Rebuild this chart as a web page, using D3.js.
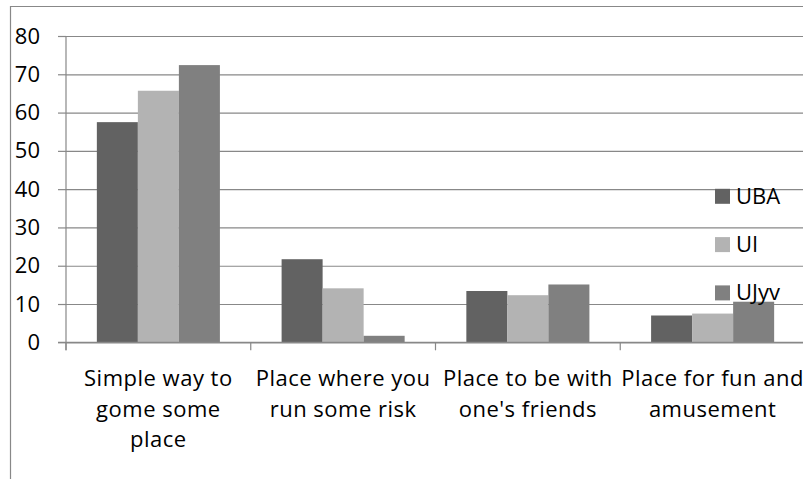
<!DOCTYPE html>
<html>
<head>
<meta charset="utf-8">
<script src="https://cdn.jsdelivr.net/npm/d3@7"></script>
<style>
  html, body { margin: 0; padding: 0; background: #fff; }
  svg { display: block; font-family: 'Open Sans', sans-serif; }
</style>
</head>
<body>
<div id="chart"></div>
<script>
// values
const categories = [
  ['Simple way to', 'gome some', 'place'],
  ['Place where you', 'run some risk'],
  ['Place to be with', "one's friends"],
  ['Place for fun and', 'amusement']
];
const seriesNames = ['UBA', 'UI', 'UJyv'];
const uba = [57.5, 21.7, 13.4, 7.0];
const ui = [65.7, 14.1, 12.3, 7.5];
const ujyv = [72.4, 1.7, 15.1, 10.6];
const yTicks = [0, 10, 20, 30, 40, 50, 60, 70, 80];

const seriesValues = [uba, ui, ujyv];
const colors = ['#626262', '#b3b3b3', '#808080'];
const gridColor = '#888888';

const width = 803;
const height = 479;

const svg = d3.select('#chart')
  .append('svg')
  .attr('width', width)
  .attr('height', height)
  .attr('viewBox', [0, 0, width, height]);

// outer chart frame (only left and top edges are visible)
svg.append('path')
  .attr('d', `M10.5,${height}V6.5H${width}`)
  .attr('fill', 'none')
  .attr('stroke', gridColor)
  .attr('stroke-width', 1.2);

const plotLeft = 66;
const plotRight = 805;
const keys = categories.map((c, i) => i);

const x0 = d3.scaleBand()
  .domain(keys)
  .range([plotLeft, plotRight])
  .paddingInner(0.334)
  .paddingOuter(0.167);

const x1 = d3.scaleBand()
  .domain(seriesNames)
  .range([0, x0.bandwidth()]);

const y = d3.scaleLinear()
  .domain([0, 80])
  .range([342.3, 36]);

// y axis with gridlines
svg.append('g')
  .attr('transform', `translate(${plotLeft},0)`)
  .call(d3.axisLeft(y).tickValues(yTicks).tickSize(8).tickPadding(18))
  .call((g) => g.select('.domain').remove())
  .call((g) => g.selectAll('.tick line')
    .attr('stroke', gridColor)
    .attr('stroke-width', 1.2))
  .call((g) => g.selectAll('.tick line').clone()
    .attr('x1', 0)
    .attr('x2', plotRight - plotLeft))
  .call((g) => g.selectAll('.tick text')
    .attr('fill', '#000')
    .attr('font-size', 22)
    .attr('font-family', "'Open Sans', sans-serif"));

// bars
const groups = svg.selectAll('.catgroup')
  .data(keys)
  .enter()
  .append('g')
  .attr('class', 'catgroup')
  .attr('transform', (d) => `translate(${x0(d)},0)`);

groups.selectAll('rect')
  .data((d) => seriesNames.map((s, si) => ({ s, si, v: seriesValues[si][d] })))
  .enter()
  .append('rect')
  .attr('x', (d) => x1(d.s))
  .attr('y', (d) => y(d.v))
  .attr('width', x1.bandwidth())
  .attr('height', (d) => y(0) - y(d.v))
  .attr('fill', (d) => colors[d.si]);

// x axis line and category ticks
const step = x0.step();
const bounds = keys.map((k) => x0(k) - step * 0.167).concat([plotRight]);

svg.append('line')
  .attr('x1', plotLeft - 8)
  .attr('x2', plotRight)
  .attr('y1', y(0))
  .attr('y2', y(0))
  .attr('stroke', gridColor)
  .attr('stroke-width', 1.2);

svg.append('line')
  .attr('x1', plotLeft)
  .attr('x2', plotLeft)
  .attr('y1', y(80))
  .attr('y2', y(0) + 8)
  .attr('stroke', gridColor)
  .attr('stroke-width', 1.2);

svg.selectAll('.xtick')
  .data(bounds)
  .enter()
  .append('line')
  .attr('class', 'xtick')
  .attr('x1', (d) => d)
  .attr('x2', (d) => d)
  .attr('y1', y(0))
  .attr('y2', y(0) + 8)
  .attr('stroke', gridColor)
  .attr('stroke-width', 1.2);

// category labels, wrapped as in the original
svg.selectAll('.catlabel')
  .data(keys)
  .enter()
  .append('text')
  .attr('class', 'catlabel')
  .attr('text-anchor', 'middle')
  .attr('font-size', 22)
  .attr('letter-spacing', 0.5)
  .attr('fill', '#000')
  .call((text) => text.selectAll('tspan')
    .data((d) => categories[d].map((line, li) => ({ line, li, d })))
    .enter()
    .append('tspan')
    .attr('x', (t) => x0(t.d) + x0.bandwidth() / 2)
    .attr('y', (t) => 386 + t.li * 30.5)
    .text((t) => t.line));

// legend
const legend = svg.selectAll('.legend')
  .data(seriesNames)
  .enter()
  .append('g')
  .attr('class', 'legend')
  .attr('transform', (d, i) => `translate(715,${196.3 + i * 48.3})`);

legend.append('rect')
  .attr('x', 0)
  .attr('y', -7.5)
  .attr('width', 15)
  .attr('height', 15)
  .attr('fill', (d, i) => colors[i]);

legend.append('text')
  .attr('x', 21)
  .attr('y', 7.5)
  .attr('font-size', 22)
  .attr('fill', '#000')
  .text((d) => d);
</script>
</body>
</html>
